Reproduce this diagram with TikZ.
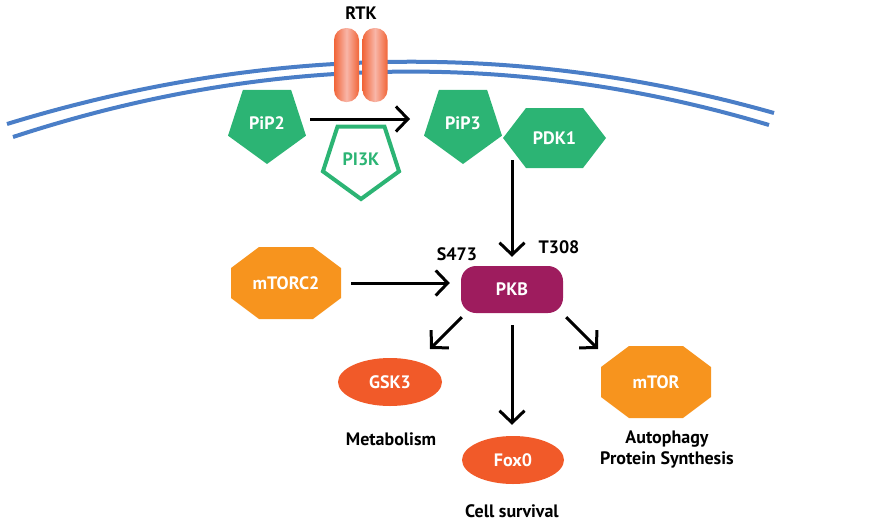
\documentclass[tikz,border=0pt]{standalone}
\usepackage{fontspec}
\setmainfont{PT Sans}
\usepackage{tikz}
\usetikzlibrary{shapes.geometric,arrows.meta}

\definecolor{memblue}{RGB}{74,126,199}
\definecolor{pipgreen}{RGB}{44,180,116}
\definecolor{rtkorange}{RGB}{241,101,56}
\definecolor{rtklight}{RGB}{248,182,168}
\definecolor{torange}{RGB}{247,148,30}
\definecolor{redorange}{RGB}{241,90,41}
\definecolor{pkbpurple}{RGB}{158,28,94}

\begin{document}
\begin{tikzpicture}[x=1pt,y=-1pt,>={Straight Barb[length=12pt,width=25pt]},
        font=\fontsize{18}{21}\selectfont\bfseries]
            \tikzstyle{membrane}=[draw=memblue,line width=4pt]
            \tikzstyle{receptor}=[rectangle,rounded corners=12pt,minimum width=25pt,minimum height=74pt,inner sep=0pt,
                left color=rtkorange,right color=rtkorange,middle color=rtklight]
            \tikzstyle{lipid}=[regular polygon,regular polygon sides=5,shape border rotate=180,minimum size=82pt,inner sep=0pt,
                fill=pipgreen,text=white]
            \tikzstyle{kinase}=[regular polygon,regular polygon sides=5,shape border rotate=180,minimum size=80pt,inner sep=0pt,
                draw=pipgreen,line width=4pt,text=pipgreen]
            \tikzstyle{hexa}=[rectangle,minimum width=103pt,minimum height=60pt,inner sep=0pt,text=white,
                path picture={\fill[pipgreen] ([xshift=23pt]path picture bounding box.north west)
                    -- ([xshift=-23pt]path picture bounding box.north east)
                    -- (path picture bounding box.east)
                    -- ([xshift=-23pt]path picture bounding box.south east)
                    -- ([xshift=23pt]path picture bounding box.south west)
                    -- (path picture bounding box.west) -- cycle;}]
            \tikzstyle{octa}=[rectangle,minimum width=110pt,minimum height=72pt,inner sep=0pt,text=white,
                path picture={\fill[torange] ([xshift=28pt]path picture bounding box.north west)
                    -- ([xshift=-28pt]path picture bounding box.north east)
                    -- ([yshift=-21pt]path picture bounding box.north east)
                    -- ([yshift=21pt]path picture bounding box.south east)
                    -- ([xshift=-28pt]path picture bounding box.south east)
                    -- ([xshift=28pt]path picture bounding box.south west)
                    -- ([yshift=21pt]path picture bounding box.south west)
                    -- ([yshift=-21pt]path picture bounding box.north west) -- cycle;}]
            \tikzstyle{blob}=[ellipse,minimum width=104pt,minimum height=48pt,inner sep=0pt,fill=redorange,text=white]
            \tikzstyle{pathway}=[->,line width=3pt]

            \useasboundingbox (0,0) rectangle (892,523);

            % cell membrane
            \draw[membrane] (7,124) .. controls (265,45) and (520,41) .. (774,113);
            \draw[membrane] (13,137) .. controls (266,54) and (518,50) .. (769,125);

            % receptor
            \foreach \num/\x in {a/346.5, b/375}
                    \node[receptor] (RTK-\num) at (\x,65) {};
            \node (RTK) at (361,13) {RTK};

            \node[lipid] (PiP2) at (267,123) {PiP2};
            \node[lipid] (PiP3) at (463,123) {PiP3};
            \node[kinase] (PI3K) at (361,159) {PI3K};
            \node[hexa] (PDK1) at (554.5,138) {PDK1};

            \node[octa] (mTORC2) at (286,283) {mTORC2};
            \node[rectangle,rounded corners=15pt,minimum width=102pt,minimum height=47pt,fill=pkbpurple,text=white] (PKB) at (512,289.5) {PKB};
            \node (S473) at (457,254) {S473};
            \node (T308) at (559,247) {T308};

            \node[blob] (GSK3) at (390,382) {GSK3};
            \node[blob,minimum width=102pt] (Fox0) at (513,460) {Fox0};
            \node[octa] (mTOR) at (656,382) {mTOR};

            \node (Metab) at (391,439) {Metabolism};
            \node (Surv) at (512,511) {Cell survival};
            \node[align=center] (Auto) at (667,449.5) {Autophagy\\Protein Synthesis};

                \draw[pathway,shorten <=43pt,shorten >=53pt] ([yshift=4pt]PiP2.center) -- ([yshift=4pt]PiP3.center);
                \draw[pathway,shorten <=22pt,shorten >=9pt] (PKB.north |- PDK1.center) -- (PKB.north);
                \draw[pathway,shorten <=10pt,shorten >=11pt] (mTORC2.east) -- (mTORC2.east -| PKB.west);
                \draw[pathway] ([shift={(1,4)}]PKB.south west) -- ([shift={(40,-33)}]GSK3.center);
                \draw[pathway,shorten <=12pt,shorten >=11pt] (PKB.south) -- (PKB.south |- Fox0.north);
                \draw[pathway] ([shift={(3,4)}]PKB.south east) -- ([shift={(-58,-33)}]mTOR.center);
        \end{tikzpicture}
\end{document}
